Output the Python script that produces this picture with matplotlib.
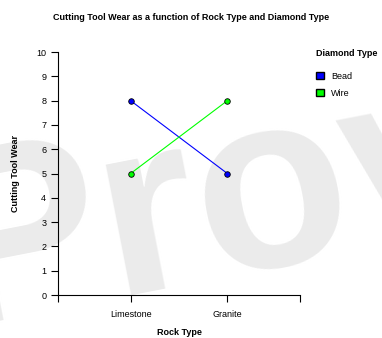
import matplotlib.pyplot as plt
from matplotlib.patches import Patch

# Data
rock_types = ['Limestone', 'Granite']
bead_wear = [8, 5]
wire_wear = [5, 8]
y_ticks = list(range(0, 11))

fig = plt.figure(figsize=(3.82, 3.38), dpi=100)
plt.rcParams['font.family'] = ['Liberation Sans', 'DejaVu Sans']

# Watermark (drawn behind everything)
fig.text(-0.22, -0.12, 'Prov', fontsize=180, fontweight='bold', color='#ebebeb',
         rotation=11, ha='left', va='bottom', zorder=-10)

ax = fig.add_axes([0.1518, 0.1272, 0.6335, 0.7188])
ax.set_zorder(1)
ax.patch.set_alpha(0)

x = list(range(len(rock_types)))
ax.plot(x, bead_wear, color='#0000ff', lw=0.8, marker='o', markersize=4,
        markeredgecolor='black', markeredgewidth=0.6, label='Bead')
ax.plot(x, wire_wear, color='#00ff00', lw=0.8, marker='o', markersize=4,
        markeredgecolor='black', markeredgewidth=0.6, label='Wire')

ax.set_xlim(-0.75, 1.75)
ax.set_ylim(0, 10)
ax.set_yticks(y_ticks)
ax.set_xticks([-0.75, 0, 1, 1.75])
ax.set_xticklabels(['', rock_types[0], rock_types[1], ''])
ax.tick_params(axis='both', labelsize=6.5, length=5, width=0.8, color='black')
ax.tick_params(axis='x', pad=6)

for s in ['top', 'right']:
    ax.spines[s].set_visible(False)
for s in ['left', 'bottom']:
    ax.spines[s].set_linewidth(0.8)

ax.set_xlabel('Rock Type', fontsize=6.5, fontweight='bold', labelpad=6)
ax.set_ylabel('Cutting Tool Wear', fontsize=6.5, fontweight='bold', labelpad=12)

fig.text(0.5, 0.948, 'Cutting Tool Wear as a function of Rock Type and Diamond Type',
         ha='center', va='center', fontsize=6.5, fontweight='bold')

handles = [Patch(facecolor='#0000ff', edgecolor='black', label='Bead'),
           Patch(facecolor='#00ff00', edgecolor='black', label='Wire')]
leg = fig.legend(handles=handles, title='Diamond Type', loc='upper left',
                 bbox_to_anchor=(0.805, 0.88), frameon=False, fontsize=6.5,
                 title_fontproperties={'weight': 'bold', 'size': 6.5},
                 handlelength=0.9, handleheight=0.9, handletextpad=0.8,
                 labelspacing=0.9, alignment='left')
leg._legend_box.sep = 10

plt.savefig('out.png', dpi=100)
